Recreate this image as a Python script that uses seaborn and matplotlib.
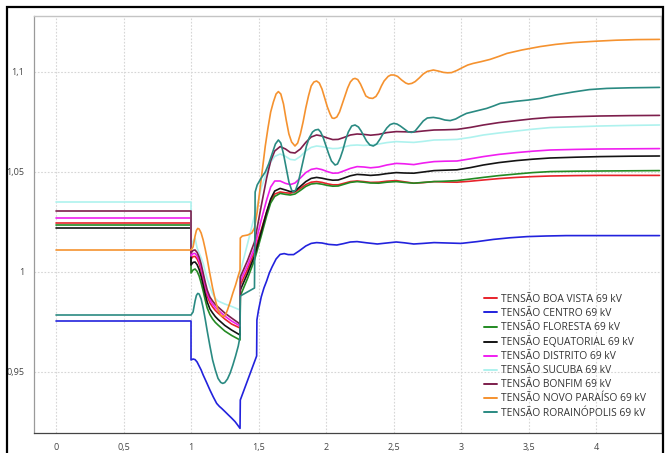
import matplotlib
matplotlib.use("Agg")
import matplotlib.pyplot as plt
from matplotlib.ticker import MultipleLocator, FuncFormatter
from matplotlib.patches import Rectangle
import pandas as pd
import seaborn as sns

# ---- series (time in s, voltage in pu) ----
names = [
    "TENSÃO BOA VISTA 69 kV",
    "TENSÃO CENTRO 69 kV",
    "TENSÃO FLORESTA 69 kV",
    "TENSÃO EQUATORIAL 69 kV",
    "TENSÃO DISTRITO 69 kV",
    "TENSÃO SUCUBA 69 kV",
    "TENSÃO BONFIM 69 kV",
    "TENSÃO NOVO PARAÍSO 69 kV",
    "TENSÃO RORAINÓPOLIS 69 kV",
]
colors = ["#e8232b", "#2222dd", "#238a23", "#141414", "#f01ef0",
          "#aef2ee", "#7d1e4c", "#f5922f", "#2a8a82"]

# time base shared by the stations of the main cluster
t_cluster = [0, 1.0, 1.0, 1.015, 1.03, 1.045, 1.06, 1.075, 1.09, 1.105, 1.12,
             1.14, 1.16, 1.18, 1.2, 1.25, 1.3, 1.363,
             1.365, 1.42, 1.47, 1.487, 1.52, 1.56, 1.59, 1.62, 1.66, 1.70,
             1.735, 1.77, 1.81, 1.85, 1.89, 1.93, 1.97, 2.01, 2.05, 2.09, 2.13,
             2.18, 2.23, 2.28, 2.33, 2.39, 2.45, 2.52, 2.58, 2.65, 2.72, 2.8,
             2.88, 2.97, 3.07, 3.165, 3.28, 3.41, 3.53, 3.66, 3.85, 4.03, 4.25,
             4.47]

v_boa_vista = [1.0245, 1.0245, 1.0065, 1.0077, 1.0078, 1.0065, 1.0042, 1.0007,
               0.9965, 0.992, 0.988, 0.9845, 0.9825, 0.9808, 0.9795, 0.9765,
               0.974, 0.972,
               0.9935, 1.0015, 1.010, 1.014, 1.021, 1.030, 1.0355, 1.039, 1.040,
               1.0396, 1.0394, 1.040, 1.0418, 1.0437, 1.0449, 1.0452, 1.0448,
               1.0441, 1.0436, 1.0436, 1.0443, 1.0452, 1.0455, 1.0452, 1.0448,
               1.0449, 1.0454, 1.0457, 1.0451, 1.0444, 1.0447, 1.0452, 1.0450,
               1.0449, 1.0454, 1.046, 1.0467, 1.0473, 1.0477, 1.048, 1.0482,
               1.0483, 1.0483, 1.0483]

v_floresta = [1.0235, 1.0235, 0.9995, 1.001, 1.0015, 1.0003, 0.998, 0.9945,
              0.9905, 0.986, 0.982, 0.9787, 0.9765, 0.9748, 0.9735, 0.9705,
              0.9683, 0.966,
              0.988, 0.997, 1.006, 1.010, 1.018, 1.028, 1.0345, 1.0378, 1.0393,
              1.0388, 1.0385, 1.039, 1.0408, 1.0428, 1.044, 1.0443, 1.0439,
              1.0433, 1.0429, 1.043, 1.0438, 1.0448, 1.0452, 1.0449, 1.0445,
              1.0444, 1.0449, 1.0452, 1.0448, 1.0444, 1.0448, 1.0452, 1.0454,
              1.0457, 1.0465, 1.0473, 1.0482, 1.049, 1.0497, 1.0502, 1.0504,
              1.0505, 1.0506, 1.0507]

v_equatorial = [1.022, 1.022, 1.0035, 1.0048, 1.005, 1.0037, 1.0013, 0.9978,
                0.9935, 0.989, 0.985, 0.9815, 0.9795, 0.9777, 0.9763, 0.9733,
                0.971, 0.9685,
                0.991, 0.9995, 1.008, 1.012, 1.020, 1.030, 1.0365, 1.0405,
                1.0418, 1.041, 1.0402, 1.0405, 1.0428, 1.0452, 1.0468, 1.0473,
                1.0469, 1.0463, 1.0459, 1.046, 1.0469, 1.0481, 1.0488, 1.0486,
                1.0483, 1.0486, 1.0492, 1.0497, 1.0495, 1.0494, 1.0500, 1.0507,
                1.0509, 1.0511, 1.0522, 1.0535, 1.0547, 1.0557, 1.0564, 1.057,
                1.0574, 1.0577, 1.0579, 1.058]

v_distrito = [1.027, 1.027, 1.008, 1.0092, 1.0093, 1.008, 1.0057, 1.0022,
              0.998, 0.9935, 0.9895, 0.986, 0.984, 0.9823, 0.981, 0.978,
              0.9755, 0.973,
              0.9955, 1.0035, 1.012, 1.017, 1.026, 1.036, 1.0425, 1.0455,
              1.0455, 1.0443, 1.0437, 1.0445, 1.047, 1.0497, 1.0513, 1.0518,
              1.0512, 1.0502, 1.0494, 1.0495, 1.0505, 1.0518, 1.0527, 1.0525,
              1.0521, 1.0525, 1.0535, 1.0543, 1.0541, 1.0537, 1.0545, 1.0552,
              1.0554, 1.0555, 1.0566, 1.0577, 1.0588, 1.0597, 1.0604, 1.061,
              1.0613, 1.0615, 1.0616, 1.0617]

v_sucuba = [1.035, 1.035, 1.012, 1.0155, 1.0168, 1.012, 1.0095, 1.007, 1.0043,
            1.0003, 0.9965, 0.9925, 0.989, 0.9868, 0.9855, 0.984, 0.9828, 0.981,
            1.000, 1.0145, 1.028, 1.032, 1.042, 1.050, 1.0548, 1.0578, 1.059,
            1.0578, 1.0563, 1.056, 1.0578, 1.0605, 1.0623, 1.063, 1.0627,
            1.0621, 1.0617, 1.0618, 1.0625, 1.0633, 1.0635, 1.0633, 1.0635,
            1.064, 1.0647, 1.0652, 1.065, 1.0648, 1.0653, 1.066, 1.0661,
            1.0663, 1.0673, 1.0685, 1.0695, 1.0705, 1.0714, 1.0722, 1.0726,
            1.073, 1.0733, 1.0735]

v_bonfim = [1.0305, 1.0305, 1.0095, 1.0108, 1.011, 1.0098, 1.0075, 1.004,
            0.9995, 0.995, 0.991, 0.9875, 0.9855, 0.9838, 0.9825, 0.9795,
            0.977, 0.974,
            0.9975, 1.006, 1.015, 1.021, 1.033, 1.047, 1.0555, 1.0605, 1.0627,
            1.0615, 1.0598, 1.0595, 1.0615, 1.0648, 1.0675, 1.0685, 1.068,
            1.067, 1.0662, 1.0663, 1.0672, 1.0685, 1.069, 1.0688, 1.0684,
            1.0688, 1.0697, 1.0702, 1.0701, 1.0700, 1.0705, 1.071, 1.0711,
            1.0713, 1.0723, 1.0735, 1.0747, 1.0757, 1.0766, 1.0773, 1.0777,
            1.078, 1.0782, 1.0783]

t_centro = [0, 1.0, 1.0, 1.015, 1.03, 1.045, 1.06, 1.075, 1.09, 1.115, 1.14,
            1.165, 1.19, 1.21, 1.227, 1.25, 1.277, 1.3, 1.326, 1.345, 1.363,
            1.365, 1.486, 1.488, 1.50, 1.52, 1.54, 1.56, 1.58, 1.60, 1.63, 1.66,
            1.69, 1.72, 1.76, 1.80, 1.85, 1.89, 1.93, 1.97, 2.02, 2.08, 2.13,
            2.18, 2.23, 2.30, 2.38, 2.45, 2.52, 2.58, 2.65, 2.72, 2.8, 2.9, 3.0,
            3.12, 3.24, 3.36, 3.49, 3.63, 3.78, 4.1, 4.47]
v_centro = [0.9755, 0.9755, 0.956, 0.9565, 0.9562, 0.955, 0.953, 0.951, 0.9485,
            0.9448, 0.941, 0.9375, 0.9343, 0.9328, 0.9318, 0.9303, 0.9285,
            0.927, 0.9252, 0.9235, 0.9218,
            0.936, 0.958, 0.976, 0.981, 0.9875, 0.992, 0.9955, 0.9995, 1.0025,
            1.0065, 1.0088, 1.0092, 1.0087, 1.0087, 1.0105, 1.013, 1.0143,
            1.0147, 1.0145, 1.0138, 1.0135, 1.0142, 1.015, 1.0152, 1.0146,
            1.014, 1.0145, 1.015, 1.0146, 1.014, 1.0143, 1.0147, 1.0145,
            1.0143, 1.0152, 1.0163, 1.0171, 1.0177, 1.018, 1.0182, 1.0182,
            1.0182]

t_novo_paraiso = [0, 1.0, 1.015, 1.03, 1.04, 1.05, 1.06, 1.075, 1.09, 1.105,
                  1.12, 1.14, 1.16, 1.18, 1.2, 1.22, 1.24, 1.255, 1.27, 1.29,
                  1.31, 1.33, 1.345, 1.363, 1.365, 1.38, 1.42, 1.45, 1.47, 1.49,
                  1.51, 1.53, 1.55, 1.57, 1.59, 1.61, 1.63, 1.647, 1.665, 1.685,
                  1.705, 1.725, 1.745, 1.77, 1.79, 1.81, 1.83, 1.85, 1.87, 1.89,
                  1.91, 1.93, 1.95, 1.97, 1.99, 2.01, 2.03, 2.045, 2.06, 2.08,
                  2.10, 2.12, 2.14, 2.16, 2.18, 2.20, 2.215, 2.235, 2.255, 2.275,
                  2.295, 2.32, 2.346, 2.37, 2.39, 2.41, 2.43, 2.46, 2.48, 2.504,
                  2.53, 2.56, 2.59, 2.61, 2.635, 2.66, 2.69, 2.72, 2.75, 2.795,
                  2.83, 2.87, 2.90, 2.93, 2.97, 3.01, 3.05, 3.09, 3.15, 3.215,
                  3.28, 3.34, 3.45, 3.585, 3.7, 3.83, 4.0, 4.15, 4.3, 4.47]
v_novo_paraiso = [1.011, 1.011, 1.0125, 1.018, 1.0208, 1.0218, 1.0215, 1.0195,
                  1.016, 1.0115, 1.0065, 0.999, 0.992, 0.986, 0.981, 0.9785,
                  0.9777, 0.9785, 0.981, 0.985, 0.9895, 0.9935, 0.997, 1.001,
                  1.017, 1.018, 1.0185, 1.0195, 1.022, 1.030, 1.041, 1.052,
                  1.063, 1.072, 1.080, 1.085, 1.089, 1.0902, 1.089, 1.084,
                  1.076, 1.069, 1.065, 1.063, 1.0645, 1.069, 1.075, 1.082,
                  1.088, 1.093, 1.095, 1.0955, 1.0945, 1.0915, 1.087, 1.0825,
                  1.079, 1.077, 1.0768, 1.0775, 1.080, 1.084, 1.088, 1.092,
                  1.095, 1.0965, 1.0968, 1.0962, 1.094, 1.091, 1.088, 1.0870,
                  1.0868, 1.0878, 1.090, 1.093, 1.0955, 1.0978, 1.0985, 1.0985,
                  1.0978, 1.096, 1.0945, 1.094, 1.0943, 1.0952, 1.097, 1.099,
                  1.1003, 1.101, 1.1005, 1.0998, 1.0996, 1.0997, 1.1008, 1.1022,
                  1.1035, 1.1043, 1.1052, 1.1063, 1.1078, 1.1093, 1.111, 1.1127,
                  1.1138, 1.1147, 1.1154, 1.1159, 1.1162, 1.1163]

t_rorainopolis = [0, 1.0, 1.015, 1.03, 1.04, 1.05, 1.06, 1.075, 1.09, 1.105,
                  1.12, 1.14, 1.16, 1.18, 1.2, 1.22, 1.235, 1.25, 1.27, 1.29,
                  1.31, 1.33, 1.35, 1.363, 1.365, 1.47, 1.475, 1.49, 1.52, 1.55,
                  1.575, 1.60, 1.625, 1.647, 1.665, 1.685, 1.705, 1.725, 1.745,
                  1.758, 1.775, 1.795, 1.815, 1.835, 1.855, 1.875, 1.90, 1.92,
                  1.943, 1.96, 1.98, 2.0, 2.02, 2.04, 2.067, 2.085, 2.105, 2.125,
                  2.145, 2.165, 2.19, 2.215, 2.24, 2.26, 2.28, 2.30, 2.325, 2.35,
                  2.375, 2.40, 2.425, 2.45, 2.475, 2.50, 2.525, 2.55, 2.58, 2.61,
                  2.635, 2.66, 2.69, 2.72, 2.75, 2.795, 2.84, 2.88, 2.92, 2.96,
                  3.0, 3.04, 3.1, 3.19, 3.24, 3.29, 3.4, 3.5, 3.585, 3.7, 3.83,
                  3.95, 4.08, 4.25, 4.47]
v_rorainopolis = [0.9785, 0.9785, 0.980, 0.9855, 0.9883, 0.9893, 0.989, 0.9865,
                  0.982, 0.9765, 0.9705, 0.963, 0.956, 0.951, 0.9468, 0.9448,
                  0.9443, 0.9447, 0.9465, 0.9495, 0.9535, 0.958, 0.963, 0.9677,
                  0.988, 0.992, 1.040, 1.0435, 1.047, 1.050, 1.054, 1.059,
                  1.064, 1.066, 1.0645, 1.059, 1.052, 1.045, 1.041, 1.040,
                  1.041, 1.045, 1.051, 1.057, 1.063, 1.067, 1.070, 1.071,
                  1.0713, 1.070, 1.067, 1.063, 1.059, 1.0555, 1.0535, 1.054,
                  1.057, 1.061, 1.066, 1.070, 1.073, 1.0735, 1.0725, 1.0705,
                  1.068, 1.0655, 1.0635, 1.063, 1.064, 1.0665, 1.0695, 1.072,
                  1.0737, 1.0743, 1.074, 1.073, 1.0715, 1.070, 1.0698, 1.0705,
                  1.073, 1.0755, 1.077, 1.0773, 1.0768, 1.076, 1.0757, 1.0765,
                  1.078, 1.0793, 1.0803, 1.0818, 1.083, 1.0843, 1.0853, 1.086,
                  1.0868, 1.0885, 1.090, 1.0912, 1.0918, 1.0921, 1.0923]

series = {
    names[0]: (t_cluster, v_boa_vista),
    names[1]: (t_centro, v_centro),
    names[2]: (t_cluster, v_floresta),
    names[3]: (t_cluster, v_equatorial),
    names[4]: (t_cluster, v_distrito),
    names[5]: (t_cluster, v_sucuba),
    names[6]: (t_cluster, v_bonfim),
    names[7]: (t_novo_paraiso, v_novo_paraiso),
    names[8]: (t_rorainopolis, v_rorainopolis),
}

frames = []
for name, (tt, vv) in series.items():
    frames.append(pd.DataFrame({"tempo": tt, "tensao": vv, "barra": name}))
df = pd.concat(frames, ignore_index=True)

# ---- figure ----
sns.set_style("white")
plt.rcParams["font.family"] = ["Open Sans", "DejaVu Sans"]

fig = plt.figure(figsize=(6.65, 4.53), dpi=100)
ax = fig.add_axes([34 / 665, 1 - 433 / 453, (661 - 34) / 665, (433 - 16) / 453])

sns.lineplot(data=df, x="tempo", y="tensao", hue="barra", hue_order=names,
             palette=dict(zip(names, colors)), estimator=None, sort=False,
             linewidth=1.2, ax=ax)

ax.set_xlim(-0.163, 4.481)
ax.set_ylim(0.9195, 1.128)
ax.set_xlabel("")
ax.set_ylabel("")

comma = FuncFormatter(lambda v, p: format(round(v, 4), "g").replace(".", ","))
ax.xaxis.set_major_locator(MultipleLocator(0.5))
ax.xaxis.set_minor_locator(MultipleLocator(0.1))
ax.yaxis.set_major_locator(MultipleLocator(0.05))
ax.yaxis.set_minor_locator(MultipleLocator(0.01))
ax.xaxis.set_major_formatter(comma)
ax.yaxis.set_major_formatter(comma)

ax.tick_params(axis="both", which="both", labelsize=6.5, labelcolor="#444444",
               color="#444444", width=0.8)
ax.tick_params(axis="y", which="major", direction="out", length=5, pad=2)
ax.tick_params(axis="y", which="minor", direction="out", length=3)
ax.tick_params(axis="x", which="major", direction="inout", length=5, pad=5)
ax.tick_params(axis="x", which="minor", direction="inout", length=4)

ax.grid(True, which="major", color="#d6d6d6", linestyle=(0, (1.5, 1.5)),
        linewidth=0.8)
ax.set_axisbelow(True)

for side in ("top", "right"):
    ax.spines[side].set_color("#c4c4c4")
    ax.spines[side].set_linewidth(1.0)
ax.spines["left"].set_color("#9a9a9a")
ax.spines["bottom"].set_color("#444444")
for side in ("left", "bottom"):
    ax.spines[side].set_linewidth(0.9)

handles, labels = ax.get_legend_handles_labels()
for h in handles:
    h.set_linewidth(1.4)
ax.legend(handles, labels, loc="upper left", bbox_to_anchor=(484 / 665, 1 - 294 / 453),
          bbox_transform=fig.transFigure, frameon=False, fontsize=7.4,
          handlelength=1.3, handletextpad=0.35, labelspacing=0.3,
          borderpad=0, borderaxespad=0, labelcolor="#333333")

# screenshot frame around the whole chart
fig.patches.append(Rectangle((7 / 665, -0.05), (663 - 7) / 665, 1 - 7 / 453 + 0.05,
                             transform=fig.transFigure, fill=False,
                             edgecolor="black", linewidth=1.6))

fig.savefig("out.png", dpi=100)
